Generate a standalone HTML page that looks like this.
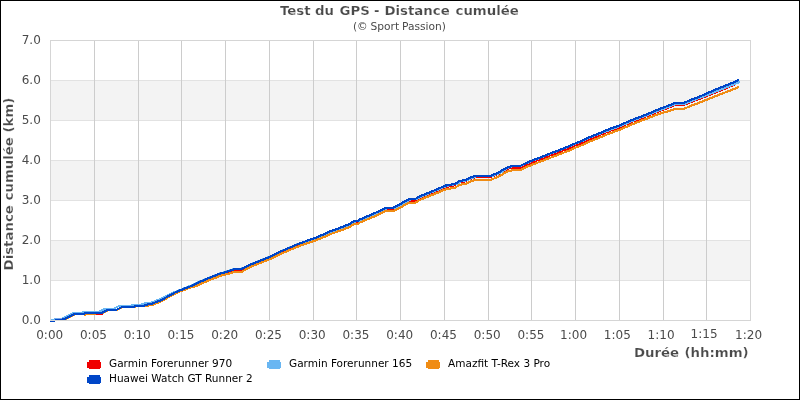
<!DOCTYPE html>
<html lang="fr"><head><meta charset="utf-8"><title>Test du GPS - Distance cumulée</title>
<style>
html,body{margin:0;padding:0;background:#fff;}
body{width:800px;height:400px;overflow:hidden;}
svg{display:block;}
text{font-family:"DejaVu Sans","Liberation Sans",sans-serif;}
.t{font-size:12px;fill:#4a4a4a;}
.b{font-weight:bold;font-size:13.33px;fill:#4a4a4a;stroke:#fff;stroke-width:0.2px;}
.s{font-size:10.67px;fill:#4a4a4a;}
.l{font-size:10.53px;fill:#000;}
.c{fill:none;stroke-width:2.2;stroke-linejoin:round;stroke-linecap:butt;shape-rendering:crispEdges;}
</style></head><body>
<svg width="800" height="400" viewBox="0 0 800 400">
<rect x="0" y="0" width="800" height="400" fill="#fff"/>
<rect x="50" y="240" width="700" height="40" fill="#f3f3f3"/>
<rect x="50" y="160" width="700" height="40" fill="#f3f3f3"/>
<rect x="50" y="80" width="700" height="40" fill="#f3f3f3"/>
<g fill="none" stroke-width="1" shape-rendering="crispEdges"><path d="M50 280.5H751M50 240.5H751M50 200.5H751M50 160.5H751M50 120.5H751M50 80.5H751" stroke="#e2e2e2"/><path d="M94.5 40V321M138.5 40V321M181.5 40V321M225.5 40V321M269.5 40V321M313.5 40V321M356.5 40V321M400.5 40V321M444.5 40V321M488.5 40V321M531.5 40V321M575.5 40V321M619.5 40V321M663.5 40V321M706.5 40V321" stroke="#cccccc"/><rect x="50.5" y="40.5" width="700" height="280" stroke="#d5d5d5"/></g>
<path class="c" stroke="#f00000" d="M62 319.3L64 319.1L65 318.8L74 314.2L75 314.0L84 314.0L85 313.0L94 313.0L95 314.0L102 314.0L103 312.4L107 310.0L116 310.0L122 307.0L134 307.1L135 306.1L144 306.1L145 305.1L147 304.9L148 304.4L149 304.1L152 303.9L155 302.6L160 300.7L165 298.2L170 295.3L175 292.7L180 290.5L190 286.7L200 282.0L220 274.0L226 272.3L230 270.9L235 270.0L241 270.0L242 269.7L250 265.6L270 257.8L280 252.9L300 244.4L313 240.0L327 234.3L330 232.7L340 229.2L350 225.1L353 222.9L354 222.5L358 222.3L360 220.7L380 212.2L385 209.4L392 209.4L395 208.4L409 200.4L415 200.4L417 199.4L420 197.6L440 189.4L445 187.1L455 185.1L460 182.1L465 181.5L470 179.0L475 177.2L490 177.2L491 176.9L499 173.7L504 170.6L508 168.7L512 167.7L513 167.6L520 167.7L524 165.7L531 162.8L570 147.8L575 145.5L580 143.6L590 139.0L610 130.8L620 127.2L630 122.7L675 105.0L683 105.0L684 104.8L690 102.3L700 98.6L735 84.5"/>
<path class="c" stroke="#69b6f2" d="M62 318.2L63 318.1L64 317.8L73 313.2L74 313.0L82 313.0L83 312.2L84 312.0L99 312.0L104 309.0L113 309.0L119 306.0L131 306.0L132 305.0L141 305.0L142 304.0L144 303.8L145 303.3L146 303.0L150 302.8L151 302.7L152 302.4L159 299.6L164 297.2L169 294.6L174 292.3L190 286.0L200 281.4L219 273.7L226 271.7L234 268.9L241 268.8L242 268.5L250 264.6L270 256.6L280 251.7L300 243.2L314 238.7L328 233.2L331 231.7L332 231.3L342 227.9L352 223.8L355 221.6L356 221.2L360 221.0L362 219.4L382 210.8L387 208.0L394 208.0L397 207.0L411 199.0L417 199.0L419 198.0L422 196.2L442 188.0L447 185.7L457 183.8L462 180.9L467 180.3L472 177.9L477 176.1L492 176.1L493 175.8L500 172.8L501 172.3L505 169.6L509 167.3L513 166.1L520 166.1L521 165.8L525 163.9L532 160.9L571 145.7L576 143.4L581 141.5L590 137.3L622 125.4L632 121.0L676 103.9L677 103.7L685 103.7L692 100.8L702 97.0L740 81.8"/>
<path class="c" stroke="#f08c14" d="M62 319.3L63 319.3L65 319.1L66 318.8L75 314.2L76 314.0L84 314.0L85 315.0L86 314.0L95 314.0L96 313.0L103 313.0L108 310.0L117 310.0L123 307.0L135 307.0L136 306.0L145 306.0L146 305.0L147 305.9L148 305.8L149 305.3L150 305.0L153 304.8L161 301.4L165 299.3L170 296.2L175 293.6L180 291.5L190 287.7L196 286.0L210 279.9L220 276.0L233 272.5L234 272.2L235 272.0L241 272.0L242 271.7L250 267.0L270 259.1L280 254.2L300 245.7L313 241.4L327 235.8L330 234.2L340 230.8L350 226.8L353 224.6L354 224.2L358 224.1L360 222.5L380 214.0L385 211.2L392 211.4L395 210.5L409 202.6L415 202.7L417 201.7L420 199.9L440 191.8L445 189.5L455 187.7L460 184.7L465 184.1L470 181.8L475 180.0L490 180.1L491 179.8L499 176.4L504 173.3L508 171.3L512 170.3L513 170.2L520 170.2L524 168.2L531 165.2L570 150.2L575 147.9L580 146.0L590 141.4L610 133.3L620 129.7L630 125.2L656 115.0L675 109.0L683 109.0L684 108.8L690 106.2L700 102.4L739 87.0"/>
<path class="c" stroke="#0046c8" d="M62 319.3L64.5 319.0L74.5 314.0L84 314.0L84.5 313.0L102 313.0L107 310.0L116 310.0L122 307.0L134 307.0L134.5 306.0L144 306.0L144.5 305.0L147 304.8L148.5 304.0L152 303.8L155 302.5L160 300.6L165 298.1L170 295.1L175 292.5L180 290.3L190 286.5L200 281.8L210 277.6L220 273.7L226 272.0L234.5 269.0L241.5 269.0L250 264.8L260 260.8L270 256.8L280 251.8L300 243.2L313 238.8L327 233.0L330 231.4L340 227.9L350 223.8L353.5 221.2L358 221.0L360 219.4L365 217.3L370 215.1L380 210.8L385 208.0L392 208.0L395 207.0L400 204.2L407 200.2L409 199.0L415 199.0L417 198.0L420 196.2L430 192.2L440 188.0L445 185.7L455 183.8L460 180.8L465 180.2L470 177.8L475 176.0L490.3 176.0L499 172.3L504 169.2L508 167.2L512.5 166.0L520 166.0L524 164.0L531 161.0L540 157.6L550 153.5L560 149.8L570 145.8L575 143.5L580 141.6L590 137.0L600 133.0L610 128.8L620 125.2L630 120.7L640 117.0L650 113.0L660 108.8L670 105.0L675 103.0L683.5 103.0L690 100.2L700 96.4L710 92.0L720 87.8L730 83.8L739 80.0"/>
<rect x="54" y="318.5" width="9" height="1.5" fill="#0046c8"/><rect x="54" y="318" width="4" height="0.6" fill="#69b6f2"/><path d="M50 321.5H55" stroke="#0046c8" stroke-width="1" shape-rendering="crispEdges"/><path d="M51 319.5H55" stroke="#69b6f2" stroke-width="1" shape-rendering="crispEdges"/>
<text class="t" x="40.8" y="323.75" text-anchor="end">0.0</text>
<text class="t" x="40.8" y="283.75" text-anchor="end">1.0</text>
<text class="t" x="40.8" y="243.75" text-anchor="end">2.0</text>
<text class="t" x="40.8" y="203.75" text-anchor="end">3.0</text>
<text class="t" x="40.8" y="163.75" text-anchor="end">4.0</text>
<text class="t" x="40.8" y="123.75" text-anchor="end">5.0</text>
<text class="t" x="40.8" y="83.75" text-anchor="end">6.0</text>
<text class="t" x="40.8" y="43.75" text-anchor="end">7.0</text>
<text class="t" x="49.70" y="338.7" text-anchor="middle">0:00</text>
<text class="t" x="93.45" y="338.7" text-anchor="middle">0:05</text>
<text class="t" x="137.20" y="338.7" text-anchor="middle">0:10</text>
<text class="t" x="180.95" y="338.7" text-anchor="middle">0:15</text>
<text class="t" x="224.70" y="338.7" text-anchor="middle">0:20</text>
<text class="t" x="268.45" y="338.7" text-anchor="middle">0:25</text>
<text class="t" x="312.20" y="338.7" text-anchor="middle">0:30</text>
<text class="t" x="355.95" y="338.7" text-anchor="middle">0:35</text>
<text class="t" x="399.70" y="338.7" text-anchor="middle">0:40</text>
<text class="t" x="443.45" y="338.7" text-anchor="middle">0:45</text>
<text class="t" x="487.20" y="338.7" text-anchor="middle">0:50</text>
<text class="t" x="530.95" y="338.7" text-anchor="middle">0:55</text>
<text class="t" x="573.60" y="338.7" text-anchor="middle">1:00</text>
<text class="t" x="617.35" y="338.7" text-anchor="middle">1:05</text>
<text class="t" x="661.10" y="338.7" text-anchor="middle">1:10</text>
<text class="t" x="704.05" y="337.6" text-anchor="middle">1:15</text>
<text class="t" x="748.60" y="338.7" text-anchor="middle">1:20</text>
<text class="b" transform="translate(0,15) scale(1,0.93)"><tspan x="280">Test</tspan> <tspan x="315">du</tspan> <tspan x="339.5">GPS</tspan> <tspan x="374">-</tspan> <tspan x="384.4">Distance</tspan> <tspan x="455.5">cumulée</tspan></text>
<text class="s" y="29.7"><tspan x="353">(</tspan><tspan x="357.1">©</tspan> <tspan x="370.5">Sport</tspan> <tspan x="402">Passion)</tspan></text>
<text class="b" transform="translate(0,357) scale(1,0.93)"><tspan x="634">Durée</tspan> <tspan x="684.5">(hh:mm)</tspan></text>
<text class="b" transform="translate(13.3,184) rotate(-90) scale(1,0.93)" text-anchor="middle">Distance cumulée (km)</text>
<path fill="#f00000" d="M89 360H100V362H101V368H100V369H89V368H87V362H89Z"/>
<text class="l" x="109" y="367.3">Garmin Forerunner 970</text>
<path fill="#69b6f2" d="M269 360H280V362H281V368H280V369H269V368H267V362H269Z"/>
<text class="l" x="289" y="367.3">Garmin Forerunner 165</text>
<path fill="#f08c14" d="M428 360H439V362H440V368H439V369H428V368H426V362H428Z"/>
<text class="l" x="448" y="367.3">Amazfit T-Rex 3 Pro</text>
<path fill="#0046c8" d="M89 375H100V377H101V383H100V384H89V383H87V377H89Z"/>
<text class="l" x="109" y="382.3">Huawei Watch GT Runner 2</text>
<rect x="0.5" y="0.5" width="799" height="399" fill="none" stroke="#000" stroke-width="1" shape-rendering="crispEdges"/>
</svg></body></html>
